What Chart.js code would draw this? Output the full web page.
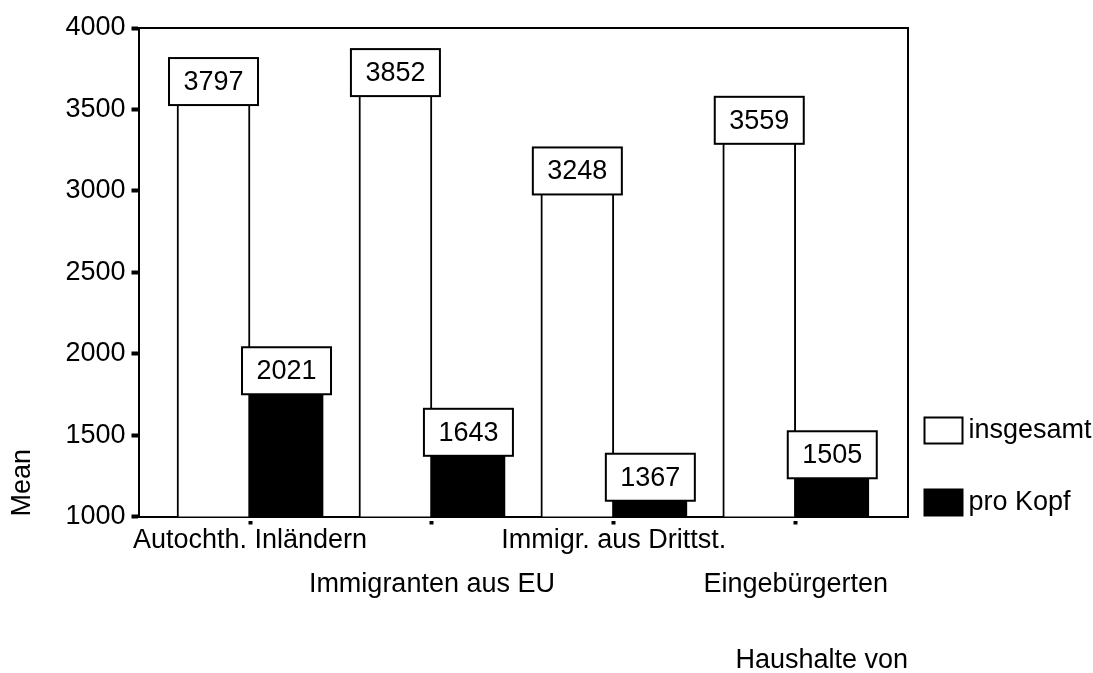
<!DOCTYPE html>
<html><head><meta charset="utf-8">
<script src="https://cdn.jsdelivr.net/npm/chart.js@4"></script>
<style>html,body{margin:0;padding:0;background:#fff}canvas{display:block}</style>
</head><body>
<canvas id="c" width="1093" height="673"></canvas>
<script>
const categories = ["Autochth. Inländern", "Immigranten aus EU", "Immigr. aus Drittst.", "Eingebürgerten"];
const seriesNames = ["insgesamt", "pro Kopf"];
const insgesamt = [3797, 3852, 3248, 3559];
const proKopf = [2021, 1643, 1367, 1505];
const yTicks = [1000, 1500, 2000, 2500, 3000, 3500, 4000];
const xTitle = "Haushalte von";
const yTitle = "Mean";

const FONT = "'Liberation Sans', Arial, sans-serif";
const FS = 27;

const toPoints = arr => arr.map((v, i) => ({x: i, y: v}));

const framePlugin = {
  id: 'frame',
  beforeDatasetsDraw(chart) {
    const {ctx, chartArea: a} = chart;
    ctx.save();
    ctx.strokeStyle = '#000';
    ctx.lineWidth = 2;
    ctx.beginPath();
    ctx.moveTo(a.left, a.top);
    ctx.lineTo(a.right, a.top);
    ctx.lineTo(a.right, a.bottom);
    ctx.stroke();
    ctx.restore();
  }
};

const valueBoxes = {
  id: 'valueBoxes',
  afterDatasetsDraw(chart) {
    const ctx = chart.ctx;
    chart.data.datasets.forEach((ds, di) => {
      const meta = chart.getDatasetMeta(di);
      meta.data.forEach((bar, i) => {
        const v = ds.data[i].y;
        const w = 89, h = 47;
        const x = bar.x - w / 2, y = bar.y - 3;
        ctx.save();
        ctx.fillStyle = '#fff';
        ctx.fillRect(x, y, w, h);
        ctx.lineWidth = 2;
        ctx.strokeStyle = '#000';
        ctx.strokeRect(x, y, w, h);
        ctx.fillStyle = '#000';
        ctx.font = FS + 'px ' + FONT;
        ctx.textAlign = 'center';
        ctx.textBaseline = 'middle';
        ctx.fillText(String(v), bar.x, y + h / 2 + 1);
        ctx.restore();
      });
    });
  }
};

const sideLegend = {
  id: 'sideLegend',
  afterDraw(chart) {
    const {ctx, chartArea} = chart;
    const n = chart.data.datasets.length;
    chart.data.datasets.forEach((ds, i) => {
      const bx = chartArea.right + 16.5;
      const by = chartArea.bottom - 27 - (n - 1 - i) * 72;
      ctx.save();
      ctx.fillStyle = ds.backgroundColor;
      ctx.fillRect(bx, by, 38, 26);
      ctx.strokeStyle = '#000';
      ctx.lineWidth = 2;
      ctx.strokeRect(bx, by, 38, 26);
      ctx.fillStyle = '#000';
      ctx.font = FS + 'px ' + FONT;
      ctx.textAlign = 'left';
      ctx.textBaseline = 'middle';
      ctx.fillText(ds.label, bx + 44, by + 13);
      ctx.restore();
    });
  }
};

new Chart(document.getElementById('c'), {
  type: 'bar',
  data: {
    datasets: [
      {label: seriesNames[0], data: toPoints(insgesamt), backgroundColor: '#fff', borderColor: '#000', borderWidth: 2, barThickness: 73},
      {label: seriesNames[1], data: toPoints(proKopf), backgroundColor: '#000', borderColor: '#000', borderWidth: 0, barThickness: 73}
    ]
  },
  options: {
    responsive: false,
    animation: false,
    devicePixelRatio: 1,
    layout: {padding: {top: 28, right: 185, left: 0, bottom: 0}},
    plugins: {legend: {display: false}, tooltip: {enabled: false}},
    scales: {
      x: {
        type: 'linear', min: -0.613, max: 3.617, offset: false,
        grid: {display: true, drawOnChartArea: false, drawTicks: true, tickLength: 8, tickWidth: 4, tickColor: '#000', offset: false, tickBorderDash: [0.01, 3, 4, 20]},
        border: {display: true, color: '#000', width: 2},
        afterBuildTicks: s => { s.ticks = categories.map((_, i) => ({value: i})); },
        ticks: {
          autoSkip: false, maxRotation: 0, minRotation: 0, padding: -6, color: '#000',
          font: {family: FONT, size: FS, lineHeight: 1.63},
          callback: v => { const i = Math.round(v); return i % 2 === 0 ? [categories[i]] : ['', categories[i]]; }
        },
        title: {display: true, text: xTitle, align: 'end', color: '#000', font: {family: FONT, size: FS, lineHeight: 0.9}, padding: 0},
        afterFit: s => { s.height = 156.5; }
      },
      y: {
        type: 'linear', min: 1000, max: 4000,
        grid: {display: true, drawOnChartArea: false, drawTicks: true, tickLength: 7, tickWidth: 4, tickColor: '#000'},
        border: {display: true, color: '#000', width: 2},
        afterBuildTicks: s => { s.ticks = yTicks.map(v => ({value: v})); },
        ticks: {padding: 6, color: '#000', font: {family: FONT, size: FS}, callback: v => String(v)},
        title: {display: true, text: yTitle, align: 'start', color: '#000', font: {family: FONT, size: FS}, padding: {top: 6, bottom: 0}},
        afterFit: s => { s.width = 138.5; }
      }
    }
  },
  plugins: [framePlugin, valueBoxes, sideLegend]
});
</script>
</body></html>
